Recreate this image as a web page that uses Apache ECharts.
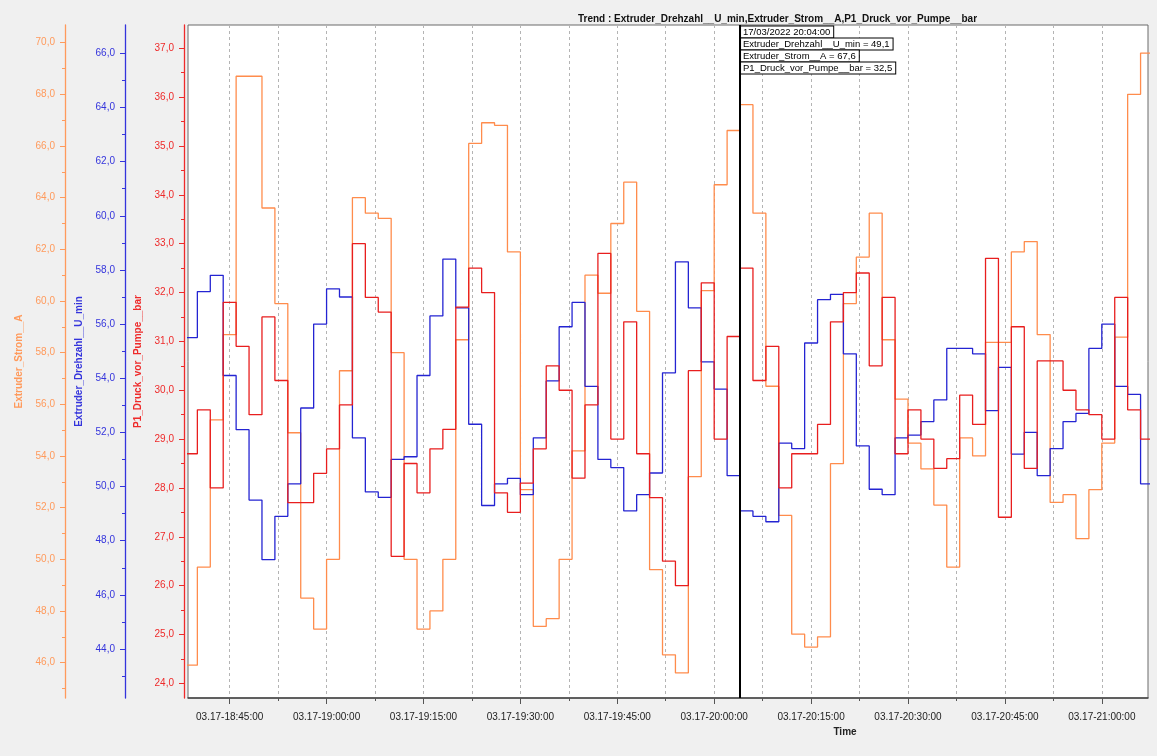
<!DOCTYPE html>
<html><head><meta charset="utf-8">
<script src="https://cdn.jsdelivr.net/npm/echarts@6/dist/echarts.min.js"></script>
<style>html,body{margin:0;padding:0;background:#f0f0f0;}#c{width:1157px;height:756px;}</style>
</head><body><div id="c"></div>
<script>
// ---- data ----
const times = ['18:38','18:40','18:42','18:44','18:46','18:48','18:50','18:52','18:54','18:56','18:58',
'19:00','19:02','19:04','19:06','19:08','19:10','19:12','19:14','19:16','19:18','19:20','19:22','19:24','19:26','19:28',
'19:30','19:32','19:34','19:36','19:38','19:40','19:42','19:44','19:46','19:48','19:50','19:52','19:54','19:56','19:58',
'20:00','20:02','20:04','20:06','20:08','20:10','20:12','20:14','20:16','20:18','20:20','20:22','20:24','20:26','20:28',
'20:30','20:32','20:34','20:36','20:38','20:40','20:42','20:44','20:46','20:48','20:50','20:52','20:54','20:56','20:58',
'21:00','21:02','21:04','21:06'];
const drehzahl = [55.5,57.2,57.8,54.1,52.1,49.5,47.3,48.9,50.1,52.9,56.0,57.3,57.0,51.8,49.8,49.6,51.0,51.1,54.1,56.3,
58.4,56.6,52.3,49.3,50.1,50.3,49.7,51.8,53.9,55.9,56.8,53.7,51.0,50.7,49.1,49.7,50.5,54.2,58.3,56.6,
54.6,53.6,50.4,49.1,48.9,48.7,51.6,51.4,55.3,56.9,57.1,54.9,51.5,49.9,49.7,51.8,51.9,52.4,53.2,55.1,
55.1,54.9,52.8,54.4,51.2,52.0,50.4,51.4,52.4,52.7,55.1,56.0,53.7,53.4,50.1];
const strom = [45.9,49.7,55.4,58.7,68.7,68.7,63.6,59.9,54.9,48.5,47.3,50.0,57.3,64.0,63.4,63.2,58.0,50.0,47.3,48.0,
50.0,58.5,66.1,66.9,66.8,61.9,52.7,47.4,47.7,50.0,54.2,61.0,60.3,63.0,64.6,59.6,49.6,46.3,45.6,53.2,
60.4,64.5,66.6,67.6,63.4,56.7,51.7,47.1,46.6,47.0,53.7,59.9,61.7,63.4,58.5,56.2,54.5,53.5,52.1,49.7,
54.7,54.0,58.4,58.4,61.9,62.3,58.7,52.2,52.5,50.8,52.7,54.5,58.6,68.0,69.6];
const druck = [28.7,29.6,28.0,31.8,30.9,29.5,31.5,30.2,27.7,27.7,28.3,28.8,29.7,33.0,31.9,31.6,26.6,28.5,27.9,28.8,
29.2,31.7,32.5,32.0,27.9,27.5,28.1,28.8,30.5,30.0,28.2,29.7,32.8,29.0,31.4,28.7,27.8,26.5,26.0,30.4,
32.2,29.0,31.1,32.5,30.2,30.9,28.0,28.7,28.7,29.3,31.4,32.0,32.4,30.5,31.9,28.7,29.6,29.0,28.4,28.6,
29.9,29.3,32.7,27.4,31.3,28.4,30.6,30.6,30.0,29.6,29.5,29.0,31.9,29.6,29.0];
const sampleMinutes = 2;               // each sample is held for 2 minutes
const xLabelTimes = ['18:45','19:00','19:15','19:30','19:45','20:00','20:15','20:30','20:45','21:00'];
const xGridTimes = ['18:45','18:52:30','19:00','19:07:30','19:15','19:22:30','19:30','19:37:30','19:45','19:52:30',
'20:00','20:07:30','20:15','20:22:30','20:30','20:37:30','20:45','20:52:30','21:00'];
const stromLabels = [46,48,50,52,54,56,58,60,62,64,66,68,70];
const stromMinor = [45,47,49,51,53,55,57,59,61,63,65,67,69];
const drehzahlLabels = [44,46,48,50,52,54,56,58,60,62,64,66];
const drehzahlMinor = [43,45,47,49,51,53,55,57,59,61,63,65];
const druckLabels = [24,25,26,27,28,29,30,31,32,33,34,35,36,37];
const druckMinor = [24.5,25.5,26.5,27.5,28.5,29.5,30.5,31.5,32.5,33.5,34.5,35.5,36.5];
const cursorDate = '17/03/2022';
const cursorTime = '20:04';
const nameDreh = 'Extruder_Drehzahl__U_min';
const nameStrom = 'Extruder_Strom__A';
const nameDruck = 'P1_Druck_vor_Pumpe__bar';

// ---- helpers ----
const toMin = s => { const p = s.split(':').map(Number); return p[0]*60 + p[1] + (p[2]||0)/60; };
const pad = n => String(n).padStart(2,'0');
const fmtTime = v => { const t = Math.round(v*60); return '03.17-' + pad(Math.floor(t/3600)) + ':' + pad(Math.floor(t%3600/60)) + ':' + pad(t%60); };
const fmt1 = v => Number(v).toFixed(1).replace('.', ',');
const build = vals => times.map((t,i)=>[toMin(t), vals[i]])
  .concat([[toMin(times[times.length-1]) + sampleMinutes, vals[vals.length-1]]]);

const C_OR = '#ff8c4c', C_OR_AX = '#ff9a5c';
const C_BL = '#2424d2', C_BL_AX = '#3434dc';
const C_RD = '#e81e1e', C_RD_AX = '#ee2a2a';
const FF = '"Liberation Sans", Arial, sans-serif';
const X_MIN = 1118.55, X_MAX = 1267.15;

function yAxis(color, offset, name, min, max, labels){
  return {
    type:'value', position:'left', offset, min, max, name,
    nameLocation:'middle', nameGap:39, nameRotate:90,
    nameTextStyle:{color, fontWeight:'bold', fontSize:10, fontFamily:FF},
    axisLine:{show:true, onZero:false, lineStyle:{color, width:1.3}},
    axisTick:{show:true, inside:false, length:5, customValues:labels, lineStyle:{color, width:1}},
    axisLabel:{color, fontSize:10, fontFamily:FF, margin:10, formatter:fmt1, customValues:labels},
    splitLine:{show:false}
  };
}
function yMinor(color, offset, min, max, ticks){
  return {
    type:'value', position:'left', offset, min, max,
    axisLine:{show:false}, axisLabel:{show:false}, splitLine:{show:false},
    axisTick:{show:true, inside:false, length:3, customValues:ticks, lineStyle:{color, width:1}}
  };
}

const chart = echarts.init(document.getElementById('c'), null, {renderer:'canvas'});
chart.setOption({
  animation:false,
  backgroundColor:'#f0f0f0',
  title:{
    text:'Trend : ' + nameDreh + ',' + nameStrom + ',' + nameDruck,
    left:573, top:9,
    textStyle:{fontSize:10, fontWeight:'bold', color:'#111', fontFamily:FF}
  },
  grid:{left:188, right:9, top:25, bottom:58, show:true, backgroundColor:'#ffffff', borderColor:'#6a6a6a', borderWidth:1},
  xAxis:[{
    type:'value', min:X_MIN, max:X_MAX,
    name:'Time', nameLocation:'middle', nameGap:29,
    nameTextStyle:{fontWeight:'bold', fontSize:10, color:'#222', fontFamily:FF, padding:[0,0,0,354]},
    axisLine:{show:true, onZero:false, lineStyle:{color:'#444', width:1.5}},
    axisTick:{show:true, length:6, customValues:xLabelTimes.map(toMin), lineStyle:{color:'#555'}},
    axisLabel:{fontSize:10, color:'#222', fontFamily:FF, margin:14, formatter:fmtTime, customValues:xLabelTimes.map(toMin)},
    splitLine:{show:false}
  },{
    type:'value', min:X_MIN, max:X_MAX, position:'bottom',
    axisLine:{show:false}, axisLabel:{show:false},
    axisTick:{show:true, length:3, customValues:xGridTimes.map(toMin), lineStyle:{color:'#555'}},
    splitLine:{show:true, lineStyle:{color:'#b4b4b4', type:[3,3], width:1}}
  }],
  yAxis:[
    yAxis(C_RD_AX, 4, nameDruck, 23.70, 37.477, druckLabels),
    yAxis(C_BL_AX, 63, nameDreh, 42.19, 67.045, drehzahlLabels),
    yAxis(C_OR_AX, 123, nameStrom, 44.63, 70.685, stromLabels),
    yMinor(C_RD_AX, 4, 23.70, 37.477, druckMinor),
    yMinor(C_BL_AX, 63, 42.19, 67.045, drehzahlMinor),
    yMinor(C_OR_AX, 123, 44.63, 70.685, stromMinor)
  ],
  series:[
    {name:nameStrom, type:'line', yAxisIndex:2, step:'end', symbol:'none', data:build(strom),
     lineStyle:{color:C_OR, width:1.3}, itemStyle:{color:C_OR}, z:2},
    {name:nameDreh, type:'line', yAxisIndex:1, step:'end', symbol:'none', data:build(drehzahl),
     lineStyle:{color:C_BL, width:1.3}, itemStyle:{color:C_BL}, z:3},
    {name:nameDruck, type:'line', yAxisIndex:0, step:'end', symbol:'none', data:build(druck),
     lineStyle:{color:C_RD, width:1.3}, itemStyle:{color:C_RD}, z:4,
     markLine:{silent:true, symbol:'none', label:{show:false}, animation:false,
       lineStyle:{color:'#000', width:2, type:'solid'},
       data:[{xAxis:toMin(cursorTime)}]}}
  ]
});

const idx = times.indexOf(cursorTime);
const cx = chart.convertToPixel({xAxisIndex:0}, toMin(cursorTime));
const boxTexts = [
  cursorDate + ' ' + cursorTime + ':00',
  nameDreh + ' = ' + fmt1(drehzahl[idx]),
  nameStrom + ' = ' + fmt1(strom[idx]),
  nameDruck + ' = ' + fmt1(druck[idx])
];
chart.setOption({
  graphic: boxTexts.map((t,i)=>({
    type:'text', x:cx+1, y:26.5 + i*12, z:100,
    style:{text:t, font:'9.5px ' + FF, fill:'#000', backgroundColor:'#fff',
      borderColor:'#000', borderWidth:1, padding:[1,3,0,2], lineHeight:10}
  }))
});
</script>
</body></html>
